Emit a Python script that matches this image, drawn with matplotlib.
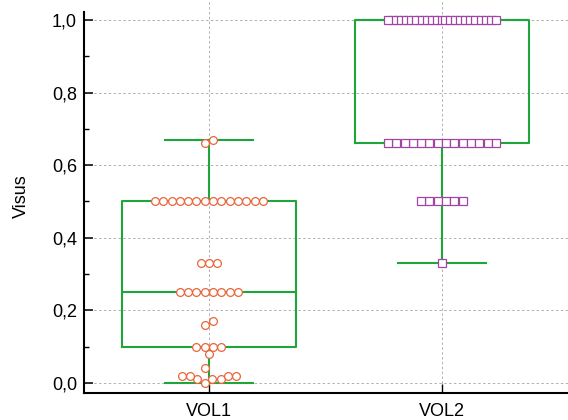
#!/usr/bin/env python3
"""Box plot with dot overlay: Visus for VOL1 and VOL2."""

import numpy as np
import matplotlib

matplotlib.use("Agg")
import matplotlib.pyplot as plt
from matplotlib.ticker import FuncFormatter, MultipleLocator

plt.rcParams["font.family"] = ["Liberation Sans", "DejaVu Sans"]

categories = ["VOL1", "VOL2"]
vol1 = [0.0, 0.01, 0.01, 0.01, 0.02, 0.02, 0.02, 0.02, 0.04, 0.08,
        0.1, 0.1, 0.1, 0.1, 0.16, 0.17] + [0.25] * 8 + [0.33] * 3 + [0.5] * 14 + [0.66, 0.67]
vol2 = [0.33] + [0.5] * 6 + [0.66] * 14 + [1.0] * 22
y_label = "Visus"

GREEN = "#1fa63a"
ORANGE = "#e8663c"
PURPLE = "#a244a6"

DPI = 100
PX_X = 233.0   # pixels per category unit
PX_Y = 363.0   # pixels per Visus unit
DIAM = 8.3     # marker spacing in pixels
MAX_SPAN = 108.0


def swarm(values):
    vals = np.asarray(values, dtype=float)
    ypx = vals * PX_Y
    counts = {v: int((vals == v).sum()) for v in np.unique(vals)}
    row_d = {v: min(DIAM, MAX_SPAN / (n - 1)) if n > 1 else DIAM for v, n in counts.items()}
    xs = np.zeros(len(vals))
    placed = []
    for i in np.argsort(vals, kind="stable"):
        cands = [0.0]
        for j in placed:
            d = row_d[vals[i]] if vals[i] == vals[j] else DIAM
            dy = abs(ypx[i] - ypx[j])
            if dy < d:
                sep = np.sqrt(d * d - dy * dy)
                cands += [xs[j] + sep, xs[j] - sep]

        def ok(x):
            for j in placed:
                d = row_d[vals[i]] if vals[i] == vals[j] else DIAM
                if np.hypot(x - xs[j], ypx[i] - ypx[j]) < d - 1e-6:
                    return False
            return True

        cands.sort(key=lambda c: (round(abs(c), 6), -c))
        xs[i] = next(c for c in cands if ok(c))
        placed.append(i)
    # center each cluster of neighbouring values
    order = np.argsort(vals, kind="stable")
    cluster = [order[0]]
    for a, b in zip(order[:-1], order[1:]):
        if ypx[b] - ypx[a] < DIAM:
            cluster.append(b)
        else:
            xs[cluster] -= (xs[cluster].max() + xs[cluster].min()) / 2
            cluster = [b]
    xs[cluster] -= (xs[cluster].max() + xs[cluster].min()) / 2
    return xs / PX_X


fig = plt.figure(figsize=(5.68, 4.2), dpi=DPI)
ax = fig.add_axes([84 / 568, 27 / 420, 484 / 568, 393 / 420])

ax.boxplot(
    [vol1, vol2],
    positions=[0, 1],
    widths=0.75,
    whis=1.5,
    showfliers=False,
    boxprops=dict(color=GREEN, linewidth=1.5),
    whiskerprops=dict(color=GREEN, linewidth=1.5),
    capprops=dict(color=GREEN, linewidth=1.5),
    medianprops=dict(color=GREEN, linewidth=1.5),
    capwidths=0.375,
    zorder=3,
)

for pos, data, marker, color in [(0, vol1, "o", ORANGE), (1, vol2, "s", PURPLE)]:
    offs = swarm(data)
    ax.plot(pos + offs, data, linestyle="none", marker=marker, markersize=5.6,
            markerfacecolor="white", markeredgecolor=color, markeredgewidth=0.9, zorder=4)

ax.set_xlim(-0.536, 1.541)
ax.set_ylim(-0.0275, 1.055)
ax.set_xticks([0, 1])
ax.set_xticklabels(categories, fontsize=13)
ax.yaxis.set_major_locator(MultipleLocator(0.2))
ax.yaxis.set_minor_locator(MultipleLocator(0.1))
ax.yaxis.set_major_formatter(FuncFormatter(lambda v, _: f"{v:.1f}".replace(".", ",")))
ax.tick_params(axis="y", which="major", direction="in", length=6.5, width=1.1, labelsize=13, pad=5)
ax.tick_params(axis="y", which="minor", direction="in", length=3.6, width=1.0)
ax.tick_params(axis="x", direction="in", length=6.5, width=1.0, pad=7)
ax.set_ylabel(y_label, fontsize=13, labelpad=16)

ax.grid(True, axis="both", which="major", linestyle=(0, (2.5, 2.5)), color="#b0b0b0", linewidth=0.7, zorder=0)
ax.set_axisbelow(True)
for side in ("top", "right"):
    ax.spines[side].set_visible(False)
ax.spines["left"].set_linewidth(1.5)
ax.spines["bottom"].set_linewidth(1.5)
ax.spines["left"].set_bounds(-0.0275, 1.022)

fig.savefig("out.png", dpi=DPI)
